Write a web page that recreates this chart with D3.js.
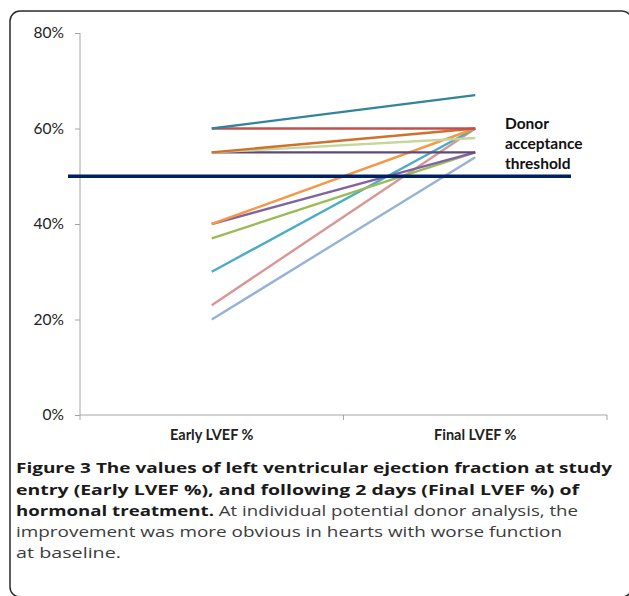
<!DOCTYPE html>
<html>
<head>
<meta charset="utf-8">
<script src="https://cdn.jsdelivr.net/npm/d3@7"></script>
<style>
  body { margin: 0; background: #fff; }
  svg { display: block; }
</style>
</head>
<body>
<svg id="chart" width="629" height="596"></svg>
<script>
// categories on the x axis
var categories = ["Early LVEF %", "Final LVEF %"];

// one line per potential donor: LVEF at study entry and after 2 days (%)
var earlyLvef = [60, 60, 55, 55, 55, 40, 40, 37, 30, 23, 20];
var finalLvef = [67, 60, 60, 58, 55, 60, 55, 55, 60, 60, 54];
var lineColors = ["#31849b", "#c0504d", "#d0702a", "#c3d69b", "#5f497a",
                  "#f79646", "#8064a2", "#9bbb59", "#4bacc6", "#d99694", "#95b3d7"];

var yTicks = [0, 20, 40, 60, 80];
var threshold = 50;
var thresholdLabel = ["Donor", "acceptance", "threshold"];

var captionLines = [
	[{t: "Figure 3 The values of left ventricular ejection fraction at study", b: true}],
	[{t: "entry (Early LVEF %), and following 2 days (Final LVEF %) of", b: true}],
	[{t: "hormonal treatment.", b: true}, {t: " At individual potential donor analysis, the", b: false}],
	[{t: "improvement was more obvious in hearts with worse function", b: false}],
	[{t: "at baseline.", b: false}]
];

var svg = d3.select("#chart");

// frame round the figure (right and bottom edges run off the picture)
svg.append("rect")
	.attr("x", 10).attr("y", 11)
	.attr("width", 622).attr("height", 586)
	.attr("rx", 10).attr("ry", 10)
	.attr("fill", "none")
	.attr("stroke", "#2b2b2b")
	.attr("stroke-width", 1.5);

var x = d3.scaleBand().domain(categories).range([80, 607]).padding(0);
var y = d3.scaleLinear().domain([0, 80]).range([415, 33]);

var axisColor = "#a6a6a6";
var labelFont = "Lato, 'Open Sans', sans-serif";

// y axis
var yAxis = svg.append("g")
	.attr("transform", "translate(80,0)")
	.call(d3.axisLeft(y).tickValues(yTicks).tickSize(5).tickPadding(11)
		.tickFormat(function(d) { return d + "%"; }));
yAxis.select(".domain").attr("stroke", axisColor).attr("d", "M0,33V420");
yAxis.selectAll(".tick line").attr("stroke", axisColor);
yAxis.selectAll(".tick text")
	.attr("font-family", labelFont)
	.attr("font-size", 15.5)
	.attr("fill", "#222");

// x axis: labels at band centres, tick marks on band edges
var xAxis = svg.append("g")
	.attr("transform", "translate(0,415)")
	.call(d3.axisBottom(x).tickSize(0).tickPadding(15));
xAxis.select(".domain").attr("stroke", axisColor).attr("d", "M80,0H607");
xAxis.selectAll(".tick text")
	.attr("font-family", labelFont)
	.attr("font-weight", "bold")
	.attr("font-size", 14.5)
	.attr("fill", "#222");

var edges = categories.map(function(c) { return x(c) + x.bandwidth(); });
svg.append("g").selectAll("line").data(edges).join("line")
	.attr("x1", function(d) { return d; }).attr("x2", function(d) { return d; })
	.attr("y1", 415).attr("y2", 420)
	.attr("stroke", axisColor);

// donor lines
var donors = earlyLvef.map(function(e, i) {
	return {values: [e, finalLvef[i]], color: lineColors[i]};
});
var line = d3.line()
	.x(function(d, i) { return x(categories[i]) + x.bandwidth() / 2; })
	.y(function(d) { return y(d); });

svg.append("g").selectAll("path").data(donors.slice().reverse()).join("path")
	.attr("d", function(d) { return line(d.values); })
	.attr("fill", "none")
	.attr("stroke", function(d) { return d.color; })
	.attr("stroke-width", 2.4)
	.attr("stroke-linecap", "butt");

// acceptance threshold
svg.append("line")
	.attr("x1", 68).attr("x2", 571)
	.attr("y1", y(threshold)).attr("y2", y(threshold))
	.attr("stroke", "#002060")
	.attr("stroke-width", 3.5);

svg.append("text")
	.attr("x", 505).attr("y", 129)
	.attr("font-family", labelFont)
	.attr("font-weight", "bold")
	.attr("font-size", 15.5)
	.attr("fill", "#111")
	.selectAll("tspan").data(thresholdLabel).join("tspan")
	.attr("x", 505)
	.attr("dy", function(d, i) { return i ? 20 : 0; })
	.text(function(d) { return d; });

// caption; widths taken from the print, which is a little stretched
var captionFont = "'Open Sans', sans-serif";
var baselines = [473, 494.5, 516, 537, 557.5];
var lineWidths = [596, 563, 562, 546, 105];
var caption = svg.append("g");
captionLines.forEach(function(parts, i) {
	var t = caption.append("text")
		.attr("x", 16).attr("y", baselines[i])
		.attr("font-family", captionFont)
		.attr("font-size", 15)
		.attr("textLength", lineWidths[i])
		.attr("lengthAdjust", "spacingAndGlyphs");
	t.selectAll("tspan").data(parts).join("tspan")
		.attr("font-weight", function(d) { return d.b ? "bold" : "normal"; })
		.attr("fill", function(d) { return d.b ? "#1a1a1a" : "#3c3c3c"; })
		.text(function(d) { return d.t; });
});
</script>
</body>
</html>
